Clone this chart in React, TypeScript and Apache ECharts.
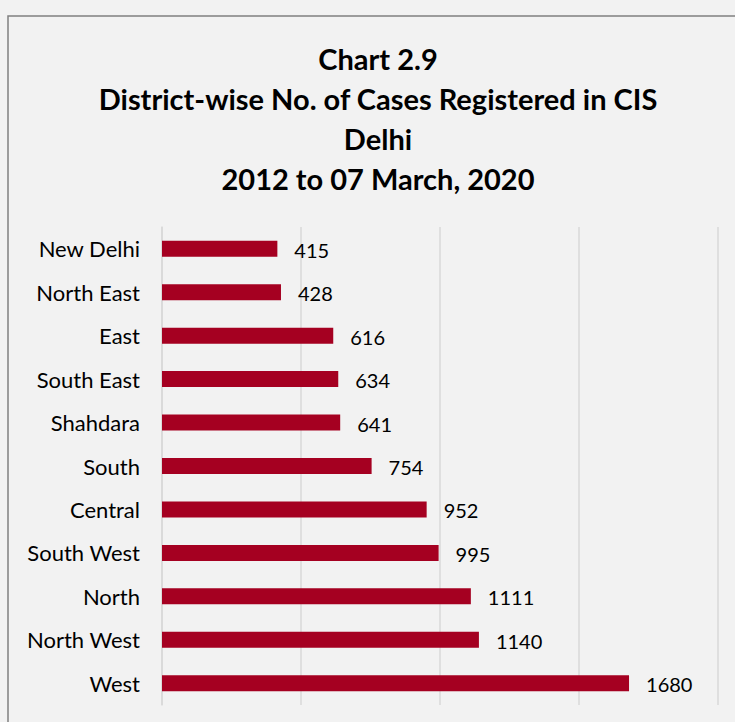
import React, { useEffect, useRef } from "react";
import * as echarts from "echarts";

const categories = [
  "New Delhi",
  "North East",
  "East",
  "South East",
  "Shahdara",
  "South",
  "Central",
  "South West",
  "North",
  "North West",
  "West",
];
const cases = [415, 428, 616, 634, 641, 754, 952, 995, 1111, 1140, 1680];
const titleLines = [
  "Chart 2.9",
  "District-wise No. of Cases Registered in CIS",
  "Delhi",
  "2012 to 07 March, 2020",
];

const FONT = "Lato, 'Open Sans', sans-serif";

export default function App() {
  const ref = useRef<HTMLDivElement>(null);
  useEffect(() => {
    if (!ref.current) return;
    const chart = echarts.init(ref.current, null, { renderer: "svg" });
    chart.setOption({
      animation: false,
      backgroundColor: "#f2f2f2",
      textStyle: { fontFamily: FONT },
      graphic: [
        {
          type: "rect",
          shape: { x: 8, y: 16, width: 800, height: 800 },
          style: { fill: "none", stroke: "#808080", lineWidth: 1.5 },
          silent: true,
        },
      ],
      title: {
        text: titleLines.join("\n"),
        left: 378,
        top: 38,
        padding: 0,
        textAlign: "center",
        textStyle: {
          fontFamily: FONT,
          fontSize: 29,
          fontWeight: "bold",
          lineHeight: 40,
          color: "#000",
        },
      },
      grid: { left: 162, right: 17, top: 227, bottom: 17 },
      xAxis: {
        type: "value",
        min: 0,
        max: 2000,
        interval: 500,
        axisLabel: { show: false },
        axisLine: { show: false },
        axisTick: { show: false },
        splitLine: { lineStyle: { color: "#d9d9d9", width: 1.5 } },
      },
      yAxis: {
        type: "category",
        data: categories,
        inverse: true,
        axisLine: { show: true, lineStyle: { color: "#d9d9d9", width: 1.5 } },
        axisTick: { show: false },
        axisLabel: { color: "#000", fontSize: 22, margin: 22, fontFamily: FONT },
      },
      series: [
        {
          type: "bar",
          data: cases,
          barWidth: 16,
          itemStyle: { color: "#a50021" },
          label: {
            show: true,
            position: "right",
            distance: 17,
            color: "#000",
            fontSize: 20,
            fontFamily: FONT,
            offset: [0, 1],
          },
        },
      ],
    });
    return () => chart.dispose();
  }, []);
  return (
    <div
      ref={ref}
      style={{ position: "fixed", left: 0, top: 0, width: 735, height: 722 }}
    />
  );
}
